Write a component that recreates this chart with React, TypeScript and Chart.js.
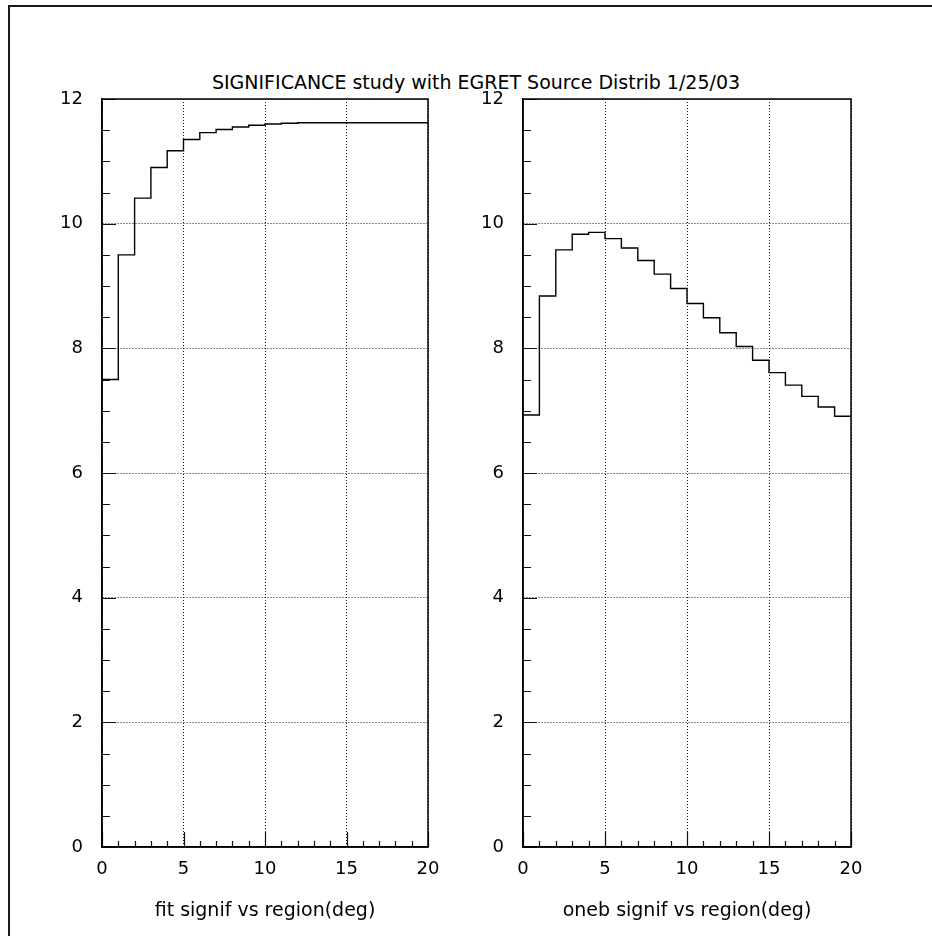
import React, { useEffect, useRef } from "react";
import { Chart, registerables } from "chart.js";

Chart.register(...registerables);

// Lower edges of the 1-degree region bins
const REGION_DEG = [0, 1, 2, 3, 4, 5, 6, 7, 8, 9, 10, 11, 12, 13, 14, 15, 16, 17, 18, 19];
const REGION_MAX = 20;

// Significance per region size
const FIT_SIGNIF = [
  7.5, 9.5, 10.41, 10.9, 11.17, 11.35, 11.46, 11.51, 11.55, 11.58,
  11.6, 11.61, 11.62, 11.62, 11.62, 11.62, 11.62, 11.62, 11.62, 11.62,
];
const ONEB_SIGNIF = [
  6.93, 8.84, 9.58, 9.83, 9.86, 9.76, 9.61, 9.41, 9.19, 8.96,
  8.72, 8.49, 8.25, 8.03, 7.81, 7.61, 7.41, 7.23, 7.06, 6.91,
];

const Y_MAX = 12;
const X_MAJOR = 5;
const Y_MAJOR = 2;
const X_MINOR = 1;
const Y_MINOR = 0.5;

const PAGE_TITLE = "SIGNIFICANCE study with EGRET Source Distrib 1/25/03";
const FIT_TITLE = "fit signif vs region(deg)";
const ONEB_TITLE = "oneb signif vs region(deg)";

const FONT = '"DejaVu Sans", sans-serif';

// Inward tick marks on the bottom and left axes, plus the closed frame.
const frameAndTicks = {
  id: "frameAndTicks",
  afterDatasetsDraw(chart: any) {
    const { ctx, chartArea, scales } = chart;
    const xs = scales.x;
    const ys = scales.y;
    ctx.save();
    ctx.strokeStyle = "#111";
    ctx.lineWidth = 1.2;
    ctx.beginPath();
    const nx = Math.round((xs.max - xs.min) / X_MINOR);
    for (let i = 0; i <= nx; i++) {
      const v = xs.min + i * X_MINOR;
      const px = Math.round(xs.getPixelForValue(v)) + 0.5;
      const len = Math.abs(v % X_MAJOR) < 1e-9 ? 15 : 6;
      ctx.moveTo(px, chartArea.bottom);
      ctx.lineTo(px, chartArea.bottom - len);
    }
    const ny = Math.round((ys.max - ys.min) / Y_MINOR);
    for (let i = 0; i <= ny; i++) {
      const v = ys.min + i * Y_MINOR;
      const py = Math.round(ys.getPixelForValue(v)) + 0.5;
      const len = Math.abs(v % Y_MAJOR) < 1e-9 ? 14 : 8;
      ctx.moveTo(chartArea.left, py);
      ctx.lineTo(chartArea.left + len, py);
    }
    ctx.stroke();
    ctx.lineWidth = 1.5;
    ctx.strokeStyle = "#000";
    ctx.strokeRect(
      chartArea.left,
      chartArea.top,
      chartArea.right - chartArea.left,
      chartArea.bottom - chartArea.top
    );
    ctx.restore();
  },
};

function histPoints(values: number[]) {
  const pts = REGION_DEG.map((x, i) => ({ x, y: values[i] }));
  pts.push({ x: REGION_MAX, y: values[values.length - 1] });
  return pts;
}

type PanelProps = {
  values: number[];
  title: string;
  left: number;
  width: number;
  yAxisWidth: number;
  rightPad: number;
};

function Panel({ values, title, left, width, yAxisWidth, rightPad }: PanelProps) {
  const ref = useRef<HTMLCanvasElement | null>(null);

  useEffect(() => {
    if (!ref.current) return;
    const dotted = [1, 2];
    const chart = new Chart(ref.current, {
      type: "line",
      data: {
        datasets: [
          {
            data: histPoints(values),
            stepped: "before",
            borderColor: "#000",
            borderWidth: 1.4,
            pointRadius: 0,
            fill: false,
          },
        ],
      },
      options: {
        responsive: false,
        animation: false,
        devicePixelRatio: 1,
        layout: { padding: { left: 0, top: 99, right: rightPad, bottom: 0 } },
        plugins: {
          legend: { display: false },
          tooltip: { enabled: false },
          title: { display: false },
        },
        scales: {
          x: {
            type: "linear",
            min: 0,
            max: REGION_MAX,
            afterFit: (s: any) => {
              s.height = 89;
            },
            ticks: {
              stepSize: X_MAJOR,
              padding: 12,
              color: "#000",
              font: { family: FONT, size: 18 },
              maxRotation: 0,
            },
            grid: { color: "#111", lineWidth: 1, drawTicks: false },
            border: { display: true, color: "#000", width: 1.5, dash: dotted },
            title: {
              display: true,
              text: title,
              color: "#000",
              font: { family: FONT, size: 19, lineHeight: 1.2 },
              padding: { top: 0, bottom: 14 },
            },
          },
          y: {
            type: "linear",
            min: 0,
            max: Y_MAX,
            afterFit: (s: any) => {
              s.width = yAxisWidth;
            },
            ticks: {
              stepSize: Y_MAJOR,
              padding: 19,
              color: "#000",
              font: { family: FONT, size: 18 },
            },
            grid: { color: "#111", lineWidth: 1, drawTicks: false },
            border: { display: true, color: "#000", width: 1.5, dash: dotted },
          },
        },
      },
      plugins: [frameAndTicks],
    });
    return () => chart.destroy();
  }, [values, title, yAxisWidth, rightPad]);

  return (
    <canvas
      ref={ref}
      width={width}
      height={936}
      style={{ position: "absolute", left, top: 0, width, height: 936 }}
    />
  );
}

export default function App() {
  return (
    <div
      style={{
        position: "fixed",
        left: 0,
        top: 0,
        width: 932,
        height: 936,
        overflow: "hidden",
        background: "#fff",
      }}
    >
      <div
        style={{
          position: "absolute",
          left: 8,
          top: 5,
          width: 960,
          height: 960,
          borderLeft: "2px solid #1a1a1a",
          borderTop: "2px solid #1a1a1a",
          boxSizing: "border-box",
        }}
      />
      <div
        style={{
          position: "absolute",
          left: 476,
          top: 71,
          transform: "translateX(-50%)",
          whiteSpace: "nowrap",
          fontFamily: FONT,
          fontSize: 19,
          lineHeight: "22px",
          color: "#000",
        }}
      >
        {PAGE_TITLE}
      </div>
      <Panel values={FIT_SIGNIF} title={FIT_TITLE} left={0} width={470} yAxisWidth={102} rightPad={42} />
      <Panel values={ONEB_SIGNIF} title={ONEB_TITLE} left={470} width={462} yAxisWidth={53} rightPad={81} />
    </div>
  );
}
